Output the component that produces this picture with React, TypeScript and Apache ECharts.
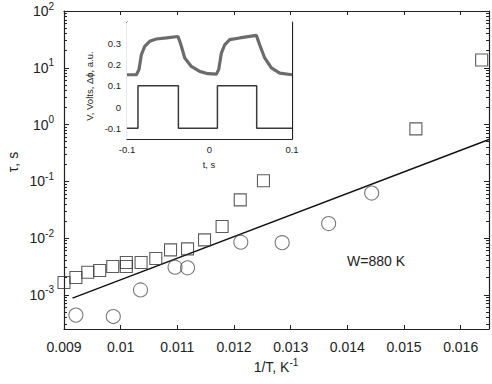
import React, { useEffect, useRef } from 'react';
import * as echarts from 'echarts';

// ---- Main plot data: tau (s) vs 1/T (K^-1) ----
const squaresX = [0.009, 0.00921, 0.00942, 0.00963, 0.00986, 0.0101, 0.0101, 0.01036, 0.01062, 0.01088, 0.01118, 0.01148, 0.01179, 0.01211, 0.01252, 0.01521, 0.01637];
const squaresY = [1.65e-3, 2.02e-3, 2.5e-3, 2.68e-3, 3.15e-3, 3.7e-3, 3.15e-3, 3.7e-3, 4.36e-3, 6.2e-3, 6.45e-3, 9.3e-3, 1.6e-2, 4.7e-2, 0.102, 0.837, 13.7];
const circlesX = [0.00921, 0.00987, 0.01035, 0.01096, 0.01118, 0.01212, 0.01285, 0.01367, 0.01443];
const circlesY = [4.39e-4, 4.15e-4, 1.22e-3, 3.07e-3, 2.99e-3, 8.46e-3, 8.3e-3, 1.8e-2, 6.2e-2];
const fitX = [0.00915, 0.0165];
const fitY = [8.75e-4, 0.545];

const xTickValues = [0.009, 0.01, 0.011, 0.012, 0.013, 0.014, 0.015, 0.016];
const yMajorValues = [1e-3, 1e-2, 1e-1, 1, 10, 100];

// ---- Inset data: signals vs t (s) ----
const responseT = [-0.1, -0.0886, -0.0855, -0.0826, -0.0785, -0.0725, -0.0644, -0.0522, -0.0382, -0.0353, -0.03, -0.022, -0.0119, -0.0018, 0.0084, 0.0111, 0.0144, 0.0184, 0.0245, 0.0366, 0.0568, 0.0608, 0.0669, 0.075, 0.0851, 0.1];
const responseV = [0.152, 0.152, 0.176, 0.246, 0.285, 0.309, 0.32, 0.325, 0.332, 0.301, 0.231, 0.191, 0.168, 0.157, 0.155, 0.176, 0.254, 0.293, 0.317, 0.325, 0.337, 0.293, 0.231, 0.184, 0.16, 0.152];
const driveT = [-0.1, -0.0867, -0.0867, -0.0377, -0.0377, 0.0096, 0.0096, 0.0572, 0.0572, 0.1];
const driveV = [-0.1, -0.1, 0.1, 0.1, -0.1, -0.1, 0.1, 0.1, -0.1, -0.1];
const insetYTicks = [-0.1, 0, 0.1, 0.2, 0.3];
const insetXTicks = [-0.1, 0, 0.1];

const FONT = "'Liberation Sans', Arial, Helvetica, sans-serif";
const AX = '#222';

const yMin = 2.5e-4;
const yMax = 100;

const minorTicks: number[] = [];
for (let e = -4; e <= 1; e++) {
  for (let m = 2; m <= 9; m++) {
    const v = m * Math.pow(10, e);
    if (v >= yMin && v <= yMax) minorTicks.push(v);
  }
}

const zip = (a: number[], b: number[]) => a.map((v, i) => [v, b[i]]);

const axisLine = { show: true, onZero: false, lineStyle: { color: AX, width: 1.2 } };

function mainLogAxis(position: 'left' | 'right', minor: boolean, labels: boolean) {
  return {
    type: 'log',
    logBase: 10,
    gridIndex: 0,
    position,
    min: yMin,
    max: yMax,
    axisLine: minor ? { show: false } : axisLine,
    axisTick: {
      show: true,
      inside: true,
      length: minor ? 3 : 5,
      customValues: minor ? minorTicks : yMajorValues,
      lineStyle: { color: AX, width: 1 },
    },
    axisLabel: labels
      ? {
          show: true,
          customValues: yMajorValues,
          margin: 10,
          color: AX,
          fontFamily: FONT,
          formatter: (v: number) => `{b|10}{s|${Math.round(Math.log10(v))}}`,
          rich: {
            b: { fontSize: 14, lineHeight: 20, fontFamily: FONT, color: AX },
            s: { fontSize: 10, verticalAlign: 'top', fontFamily: FONT, color: AX },
          },
        }
      : { show: false },
    splitLine: { show: false },
  };
}

function mainXAxis(position: 'bottom' | 'top', labels: boolean) {
  return {
    type: 'value',
    gridIndex: 0,
    position,
    min: 0.009,
    max: 0.0165,
    axisLine,
    axisTick: { show: true, inside: true, length: 4, customValues: xTickValues, lineStyle: { color: AX } },
    axisLabel: labels
      ? {
          show: true,
          customValues: xTickValues,
          margin: 11,
          fontSize: 14,
          color: AX,
          fontFamily: FONT,
          formatter: (v: number) => String(+v.toFixed(4)),
        }
      : { show: false },
    splitLine: { show: false },
  };
}

function insetXAxis(position: 'bottom' | 'top', labels: boolean) {
  return {
    type: 'value',
    gridIndex: 1,
    position,
    min: -0.1,
    max: 0.1,
    axisLine,
    axisTick: { show: true, inside: true, length: 3, customValues: insetXTicks, lineStyle: { color: AX } },
    axisLabel: labels
      ? {
          show: true,
          customValues: insetXTicks,
          margin: 5,
          fontSize: 9.5,
          color: AX,
          fontFamily: FONT,
          formatter: (v: number) => (Math.abs(v) < 1e-9 ? '0' : String(+v.toFixed(1))),
        }
      : { show: false },
    splitLine: { show: false },
  };
}

function insetYAxis(position: 'left' | 'right', labels: boolean) {
  return {
    type: 'value',
    gridIndex: 1,
    position,
    min: -0.15,
    max: 0.4,
    axisLine,
    axisTick: { show: true, inside: true, length: 3, customValues: insetYTicks, lineStyle: { color: AX } },
    axisLabel: labels
      ? {
          show: true,
          customValues: insetYTicks,
          margin: 6,
          fontSize: 9.5,
          color: AX,
          fontFamily: FONT,
          formatter: (v: number) => (Math.abs(v) < 1e-9 ? '0' : String(+v.toFixed(1))),
        }
      : { show: false },
    splitLine: { show: false },
  };
}

const option = {
  animation: false,
  backgroundColor: '#fff',
  textStyle: { fontFamily: FONT },
  grid: [
    { left: 64, top: 11, width: 425, height: 318, containLabel: false },
    { left: 127, top: 22, width: 165, height: 117, show: true, backgroundColor: '#fff', borderWidth: 0, z: 5 },
  ],
  xAxis: [mainXAxis('bottom', true), mainXAxis('top', false), insetXAxis('bottom', true), insetXAxis('top', false)],
  yAxis: [
    mainLogAxis('left', false, true),
    mainLogAxis('left', true, false),
    mainLogAxis('right', false, false),
    mainLogAxis('right', true, false),
    insetYAxis('left', true),
    insetYAxis('right', false),
  ],
  series: [
    {
      type: 'line',
      xAxisIndex: 0,
      yAxisIndex: 0,
      data: zip(fitX, fitY),
      showSymbol: false,
      lineStyle: { color: '#111', width: 1.4 },
      z: 2,
    },
    {
      type: 'scatter',
      xAxisIndex: 0,
      yAxisIndex: 0,
      data: zip(squaresX, squaresY),
      symbol: 'rect',
      symbolSize: 12,
      clip: false,
      itemStyle: { color: 'rgba(0,0,0,0)', borderColor: '#333', borderWidth: 1.1 },
      z: 3,
    },
    {
      type: 'scatter',
      xAxisIndex: 0,
      yAxisIndex: 0,
      data: zip(circlesX, circlesY),
      symbol: 'circle',
      symbolSize: 14,
      clip: false,
      itemStyle: { color: 'rgba(0,0,0,0)', borderColor: '#555', borderWidth: 1.1 },
      z: 3,
    },
    {
      type: 'line',
      xAxisIndex: 2,
      yAxisIndex: 4,
      data: zip(responseT, responseV),
      showSymbol: false,
      lineStyle: { color: '#6b6b6b', width: 3.2 },
      z: 6,
    },
    {
      type: 'line',
      xAxisIndex: 2,
      yAxisIndex: 4,
      data: zip(driveT, driveV),
      showSymbol: false,
      lineStyle: { color: '#3a3a3a', width: 1.5 },
      z: 6,
    },
  ],
  graphic: [
    {
      type: 'text',
      x: 13,
      y: 162,
      rotation: Math.PI / 2,
      style: { text: 'τ, s', fontSize: 14, fontFamily: FONT, fill: AX, align: 'center', verticalAlign: 'middle' },
    },
    {
      type: 'text',
      x: 276,
      y: 367,
      style: {
        text: '{a|1/T, K}{s|-1}',
        align: 'center',
        verticalAlign: 'middle',
        rich: {
          a: { fontSize: 14, lineHeight: 20, fontFamily: FONT, fill: AX },
          s: { fontSize: 10, verticalAlign: 'top', fontFamily: FONT, fill: AX },
        },
      },
    },
    {
      type: 'text',
      x: 376,
      y: 261,
      style: { text: 'W=880 K', fontSize: 14, fontFamily: FONT, fill: AX, align: 'center', verticalAlign: 'middle' },
    },
    {
      type: 'text',
      x: 89,
      y: 86,
      rotation: Math.PI / 2,
      z: 10,
      style: { text: 'V, Volts, Δϕ, a.u.', fontSize: 9.5, fontFamily: FONT, fill: AX, align: 'center', verticalAlign: 'middle' },
    },
    {
      type: 'text',
      x: 209,
      y: 164,
      z: 10,
      style: { text: 't, s', fontSize: 9.5, fontFamily: FONT, fill: AX, align: 'center', verticalAlign: 'middle' },
    },
  ],
};

export default function App() {
  const ref = useRef<HTMLDivElement>(null);
  useEffect(() => {
    document.body.style.margin = '0';
    const chart = echarts.init(ref.current!, null, { renderer: 'svg' });
    chart.setOption(option as any);
    return () => chart.dispose();
  }, []);
  return <div ref={ref} style={{ width: 492, height: 384 }} />;
}
